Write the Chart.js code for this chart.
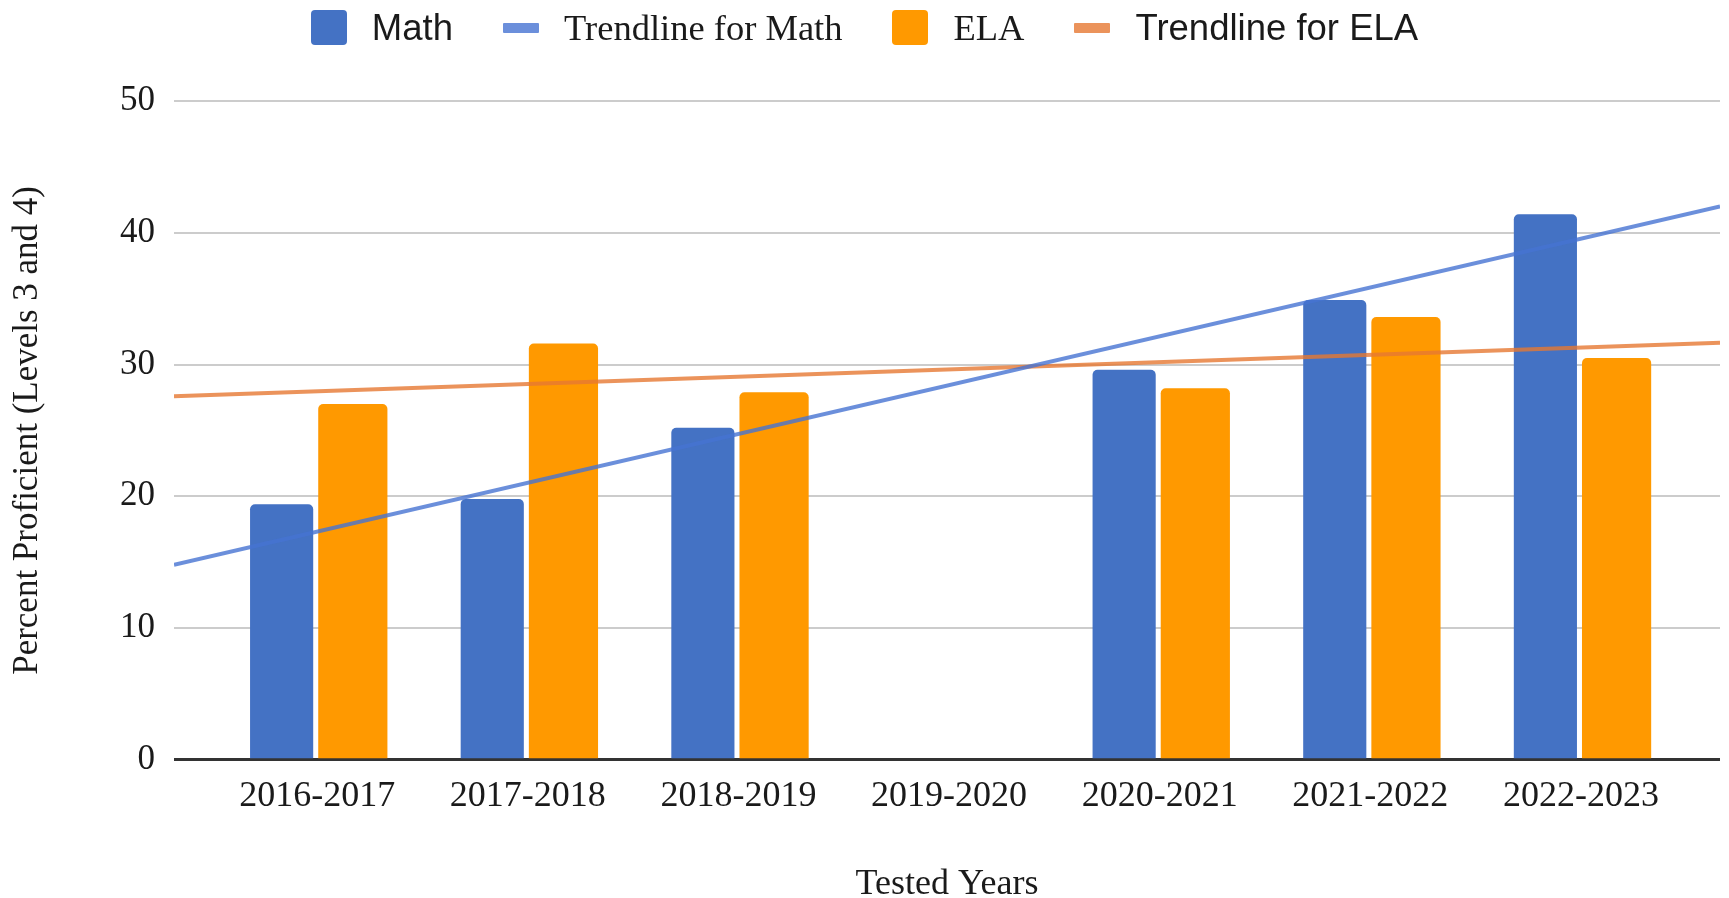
<!DOCTYPE html>
<html>
<head>
<meta charset="utf-8">
<title>Percent Proficient</title>
<script src="https://cdn.jsdelivr.net/npm/chart.js@4.4.1/dist/chart.umd.min.js"></script>
<style>
    html, body { margin: 0; padding: 0; background: #fff; }
    #wrap { position: relative; width: 1729px; height: 898px; }
    #legend {
        position: absolute; top: 0; left: 0; width: 1729px; height: 55px;
        display: flex; justify-content: center; align-items: center;
        color: #1a1a1a; font-size: 36.5px; white-space: nowrap;
    }
    #legend .item { display: flex; align-items: center; margin: 0 25px; }
    #legend .mark { display: inline-block; margin-right: 25px; }
    #legend .box { width: 36px; height: 35px; border-radius: 4px; }
    #legend .line { width: 36px; height: 10px; border-radius: 1px; }
</style>
</head>
<body>
<div id="wrap">
    <canvas id="chart" width="1729" height="898"></canvas>
    <div id="legend"></div>
</div>
<script>
const years = ['2016-2017', '2017-2018', '2018-2019', '2019-2020', '2020-2021', '2021-2022', '2022-2023'];
const mathValues = [19.4, 19.8, 25.2, null, 29.6, 34.9, 41.4];
const elaValues = [27.0, 31.6, 27.9, null, 28.2, 33.6, 30.5];
// trendline values at the left and right edge of the plot
const mathTrend = [14.8, 42.0];
const elaTrend = [27.6, 31.65];
const yTicks = [0, 10, 20, 30, 40, 50];

const SERIF = '"Liberation Serif", "Times New Roman", serif';
const SANS = '"Liberation Sans", Arial, sans-serif';
const xEdges = [-0.68, 6.66];

// the legend of the original mixes fonts
const legendFonts = [SANS, SERIF, SERIF, SANS];

const htmlLegend = {
    id: 'htmlLegend',
    afterUpdate(chart) {
        const box = document.getElementById('legend');
        box.innerHTML = '';
        chart.data.datasets.forEach((ds, i) => {
            const item = document.createElement('div');
            item.className = 'item';
            const mark = document.createElement('span');
            const isLine = ds.type === 'line';
            mark.className = 'mark ' + (isLine ? 'line' : 'box');
            mark.style.background = isLine ? ds.borderColor : ds.backgroundColor;
            const text = document.createElement('span');
            text.textContent = ds.label;
            text.style.fontFamily = legendFonts[i];
            item.appendChild(mark);
            item.appendChild(text);
            box.appendChild(item);
        });
    }
};

const toPoints = values => values.map((v, i) => ({ x: i, y: v }));
const trendPoints = values => values.map((v, i) => ({ x: xEdges[i], y: v }));

new Chart(document.getElementById('chart').getContext('2d'), {
    type: 'bar',
    data: {
        datasets: [
            {
                label: 'Math',
                data: toPoints(mathValues),
                backgroundColor: '#4472C4',
                barPercentage: 0.887,
                categoryPercentage: 0.676,
                borderRadius: 5,
                order: 2
            },
            {
                type: 'line',
                label: 'Trendline for Math',
                data: trendPoints(mathTrend),
                borderColor: 'rgba(70, 115, 210, 0.8)',
                backgroundColor: 'rgba(70, 115, 210, 0.8)',
                borderWidth: 4,
                pointRadius: 0,
                order: 1
            },
            {
                label: 'ELA',
                data: toPoints(elaValues),
                backgroundColor: '#FF9900',
                barPercentage: 0.972,
                categoryPercentage: 0.676,
                borderRadius: 5,
                order: 2
            },
            {
                type: 'line',
                label: 'Trendline for ELA',
                data: trendPoints(elaTrend),
                borderColor: 'rgba(230, 120, 50, 0.8)',
                backgroundColor: 'rgba(230, 120, 50, 0.8)',
                borderWidth: 4,
                pointRadius: 0,
                order: 1
            }
        ]
    },
    options: {
        responsive: false,
        animation: false,
        layout: { padding: { top: 101, right: 9, bottom: 0, left: 0 } },
        plugins: {
            legend: { display: false },
            tooltip: { enabled: false }
        },
        scales: {
            x: {
                type: 'linear',
                min: xEdges[0],
                max: xEdges[1],
                offset: false,
                grid: { display: false, drawTicks: false },
                border: { display: false },
                afterBuildTicks: scale => {
                    scale.ticks = years.map((_, i) => ({ value: i }));
                },
                ticks: {
                    autoSkip: false,
                    maxRotation: 0,
                    padding: 15,
                    color: '#1a1a1a',
                    font: { family: SERIF, size: 36 },
                    callback: value => years[value]
                },
                title: {
                    display: true,
                    text: 'Tested Years',
                    color: '#1a1a1a',
                    font: { family: SERIF, size: 36, lineHeight: 1 },
                    padding: { top: 34, bottom: -5 }
                }
            },
            y: {
                min: 0,
                max: 50,
                afterBuildTicks: scale => {
                    scale.ticks = yTicks.map(v => ({ value: v }));
                },
                grid: {
                    drawTicks: false,
                    color: ctx => ctx.tick && ctx.tick.value === 0 ? '#333' : '#cccccc',
                    lineWidth: ctx => ctx.tick && ctx.tick.value === 0 ? 3 : 2
                },
                border: { display: false },
                ticks: {
                    padding: 19,
                    color: '#1a1a1a',
                    font: { family: SERIF, size: 35 }
                },
                title: {
                    display: true,
                    text: 'Percent Proficient (Levels 3 and 4)',
                    color: '#1a1a1a',
                    font: { family: SERIF, size: 35, lineHeight: 1 },
                    padding: { top: 10, bottom: 56 }
                }
            }
        }
    },
    plugins: [htmlLegend]
});
</script>
</body>
</html>
